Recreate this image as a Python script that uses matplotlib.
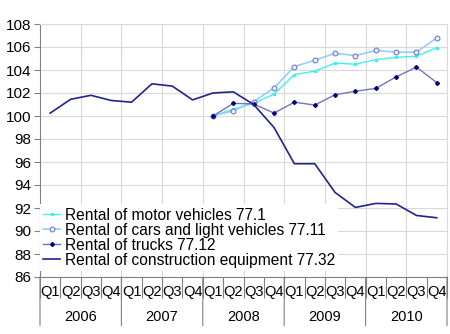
import matplotlib.pyplot as plt
import numpy as np

plt.rcParams['font.family'] = ['Liberation Sans', 'DejaVu Sans']

years = ['2006', '2007', '2008', '2009', '2010']
quarters = ['Q1', 'Q2', 'Q3', 'Q4']

nan = np.nan
motor_vehicles = [nan] * 8 + [100.0, 100.6, 101.1, 101.9, 103.6, 103.9, 104.6, 104.5,
                              104.9, 105.1, 105.2, 105.95]
cars_light = [nan] * 8 + [100.0, 100.45, 101.25, 102.45, 104.3, 104.85, 105.45, 105.25,
                          105.7, 105.55, 105.55, 106.8]
trucks = [nan] * 8 + [100.0, 101.1, 101.05, 100.25, 101.2, 100.95, 101.85, 102.15,
                      102.4, 103.4, 104.25, 102.9]
construction = [100.25, 101.45, 101.8, 101.35, 101.2, 102.8, 102.6, 101.4,
                102.0, 102.1, 101.0, 99.0, 95.85, 95.85, 93.35, 92.05,
                92.4, 92.35, 91.35, 91.15]

labels = ['Rental of motor vehicles 77.1',
          'Rental of cars and light vehicles 77.11',
          'Rental of trucks 77.12',
          'Rental of construction equipment 77.32']

fig = plt.figure(figsize=(4.5, 3.34), dpi=100)
ax = fig.add_axes([40 / 450, 1 - 277 / 334, 407 / 450, 253 / 334])

x = np.arange(len(construction))
ax.plot(x, motor_vehicles, color='#40F0F0', lw=1.0, marker='s', ms=1.5,
        mec='#40F0F0', mfc='#40F0F0', label=labels[0], zorder=3)
ax.plot(x, cars_light, color='#99CCFF', lw=1.2, marker='o', ms=3.5,
        mec='#6070C8', mfc='#E8F0FF', mew=0.7, label=labels[1], zorder=4)
ax.plot(x, trucks, color='#7474B8', lw=1.0, marker='D', ms=2,
        mec='#000080', mfc='#000080', label=labels[2], zorder=5)
ax.plot(x, construction, color='#23238C', lw=1.2, label=labels[3], zorder=6)

ax.set_xlim(-0.5, 19.5)
ax.set_ylim(86, 108)
ax.set_yticks(np.arange(86, 109, 2))
ax.tick_params(axis='y', direction='out', length=4, width=0.8, color='#808080',
               pad=2, labelsize=11)

# light grid: every 2 units vertically, every 2 quarters horizontally
ax.grid(axis='y', color='#D9D9D9', lw=0.8, zorder=0)
for gx in np.arange(1.5, 20, 2):
    ax.axvline(gx, color='#D9D9D9', lw=0.8, zorder=0)

for side in ['top', 'right']:
    ax.spines[side].set_color('#D9D9D9')
for side in ['left', 'bottom']:
    ax.spines[side].set_color('#808080')

# two-level category axis: quarters then years
ax.set_xticks(np.arange(-0.5, 20, 1))
ax.set_xticklabels([])
ax.tick_params(axis='x', direction='out', length=15, width=0.8, color='#808080')
for i in range(len(x)):
    ax.annotate(quarters[i % 4], xy=(i, 0), xycoords=('data', 'axes fraction'),
                xytext=(0, -11), textcoords='offset points',
                ha='center', va='center', fontsize=10.5)
for k, yr in enumerate(years):
    ax.annotate(yr, xy=(4 * k + 1.5, 0), xycoords=('data', 'axes fraction'),
                xytext=(0, -28.5), textcoords='offset points',
                ha='center', va='center', fontsize=10.5)
for bx in np.arange(-0.5, 20, 4):
    ax.annotate('', xy=(bx, 0), xycoords=('data', 'axes fraction'),
                xytext=(0, -35), textcoords='offset points',
                arrowprops=dict(arrowstyle='-', color='#808080', lw=0.8,
                                shrinkA=0, shrinkB=0))

leg = ax.legend(loc='lower left', bbox_to_anchor=(0.0, 0.025), fontsize=11.2,
                frameon=True, fancybox=False, edgecolor='none', framealpha=1,
                handlelength=1.1, handletextpad=0.3, labelspacing=0.0,
                borderpad=0.2, borderaxespad=0)
leg.set_zorder(10)

fig.savefig('out.png', dpi=100)
